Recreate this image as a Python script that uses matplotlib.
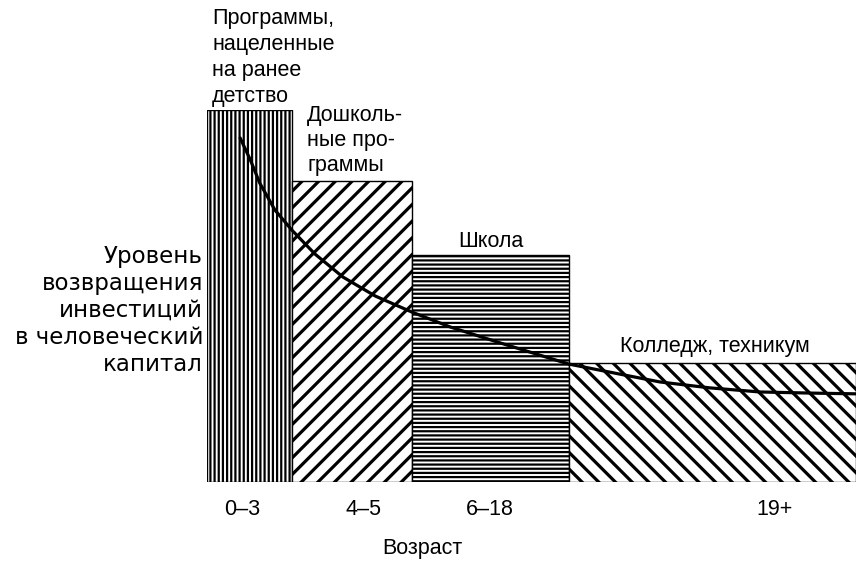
import numpy as np
import matplotlib
matplotlib.use("Agg")
import matplotlib.pyplot as plt

plt.rcParams['font.family'] = ['Liberation Sans', 'DejaVu Sans']

# ширины и высоты столбцов (условные единицы)
widths = [1.0, 1.41, 1.85, 3.38]
heights = [10.0, 8.1, 6.1, 3.2]
hatches = ['||||', '//', '----', '\\\\']
hatch_lw = [1.6, 2.3, 1.6, 2.3]

bar_labels = ["Программы,\nнацеленные\nна ранее\nдетство",
              "Дошколь-\nные про-\nграммы",
              "Школа",
              "Колледж, техникум"]

tick_pos = [0.41, 1.84, 3.33, 6.68]
tick_labels = ["0–3", "4–5", "6–18", "19+"]

# кривая отдачи от инвестиций
curve_x = [0.39, 0.51, 0.62, 0.80, 1.00, 1.27, 1.60, 1.98, 2.41, 2.86,
           3.45, 4.26, 4.86, 5.33, 5.92, 6.51, 7.11, 7.64]
curve_y = [9.25, 8.66, 8.04, 7.31, 6.77, 6.13, 5.51, 5.00, 4.57, 4.17,
           3.74, 3.17, 2.90, 2.69, 2.53, 2.42, 2.39, 2.37]

fig = plt.figure(figsize=(8.56, 5.62), dpi=100)
ax = fig.add_axes([207/856, 80/562, 649/856, 372/562])

edges = np.concatenate([[0], np.cumsum(widths)])
for i in range(len(widths)):
    with plt.rc_context({'hatch.linewidth': hatch_lw[i]}):
        ax.bar(edges[i], heights[i], width=widths[i], align='edge',
               facecolor='white', edgecolor='black', linewidth=1.0,
               hatch=hatches[i])

ax.plot(curve_x, curve_y, color='black', lw=2.3, solid_capstyle='round')

ax.set_xlim(0, edges[-1])
ax.set_ylim(0, 10)
ax.axis('off')

fs = 15.5
ax.text(0.06, 12.74, bar_labels[0], ha='left', va='top', fontsize=fs,
        linespacing=1.31, clip_on=False)
ax.text(1.18, 10.13, bar_labels[1], ha='left', va='top', fontsize=fs,
        linespacing=1.26, clip_on=False)
ax.text(3.34, 6.75, bar_labels[2], ha='center', va='top', fontsize=fs,
        clip_on=False)
ax.text(4.86, 3.92, bar_labels[3], ha='left', va='top', fontsize=fs,
        clip_on=False)

ax.text(-0.047, 4.62, "Уровень\nвозвращения\nинвестиций\nв человеческий\nкапитал",
        ha='right', va='center', multialignment='right', fontsize=16.5,
        family=['DejaVu Sans'], linespacing=1.22, clip_on=False)

for p, t in zip(tick_pos, tick_labels):
    ax.text(p, -0.73, t, ha='center', va='center', fontsize=fs, clip_on=False)

ax.text(2.53, -1.8, "Возраст", ha='center', va='center', fontsize=fs,
        clip_on=False)

fig.savefig('out.png', dpi=100)
